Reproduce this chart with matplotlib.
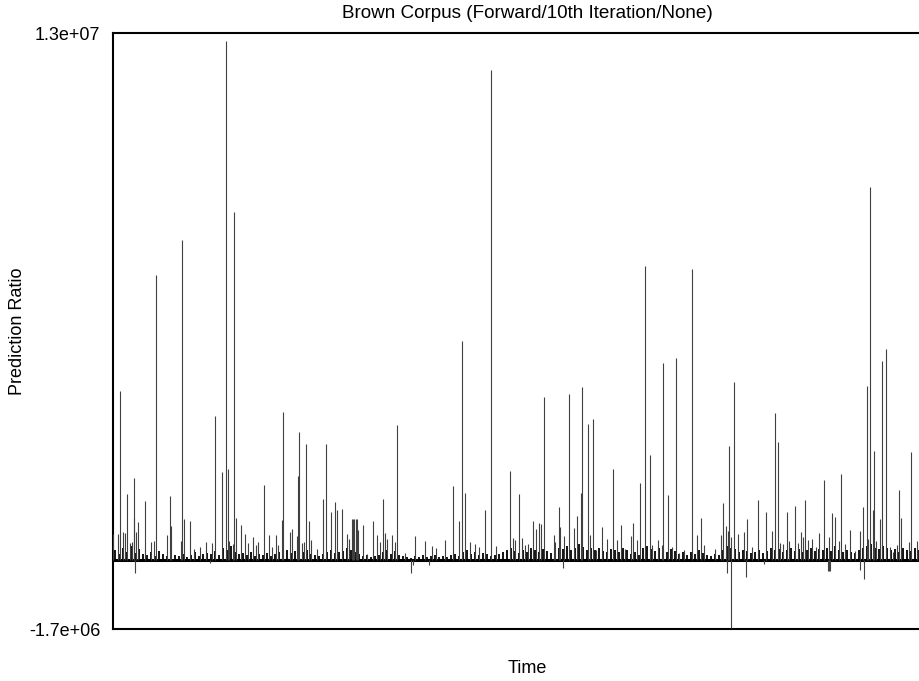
import numpy as np
import matplotlib
matplotlib.use('Agg')
import matplotlib.pyplot as plt

plt.rcParams['font.family'] = ['Liberation Sans', 'DejaVu Sans']

# Spikes of the prediction ratio: time (thousand words) and value (millions)
spike_time = [0.3, 4.7, 6.7, 9.7, 11.7, 13.7, 16.7, 18.7, 20.7, 21.3, 22.3, 22.7, 25.3, 32.3, 37.7, 41.3,
              42.7, 53.7, 57.3, 58.3, 68.3, 69.0, 71.0, 77.0, 80.7, 87.0, 93.0, 97.3, 99.3, 102.0, 108.7,
              112.7, 114.7, 116.0, 119.7, 121.3, 122.7, 128.0, 132.3, 135.3, 140.3, 142.7, 144.7, 150.7,
              155.7, 159.3, 162.7, 165.3, 169.0, 169.7, 176.7, 178.7, 183.7, 185.0, 186.0, 188.7, 190.7,
              192.7, 195.7, 198.0, 203.7, 209.7, 213.0, 217.7, 222.0, 224.3, 228.7, 234.3, 236.3, 238.7,
              240.0, 241.5, 243.0, 244.5, 245.3, 249.7, 254.0, 260.0, 264.0, 267.3, 270.0, 272.3, 274.3,
              279.0, 281.7, 283.7, 292.0, 298.0, 300.3, 302.0, 312.3, 316.3, 318.7, 323.0, 331.7, 340.0,
              345.7, 349.0, 351.7, 357.3, 362.3, 365.7, 372.3, 378.3, 383.0, 397.0, 400.0, 402.0, 406.0,
              408.7, 412.0, 414.7, 419.7, 422.7, 426.3, 428.0, 431.5, 440.7, 442.3, 445.7, 447.0, 450.0,
              450.7, 456.0, 461.0, 464.3, 467.7, 469.0, 475.3, 476.7, 479.7, 482.7, 488.7, 494.3, 499.7,
              503.7, 508.0, 512.0, 517.7, 520.3, 524.0, 527.0, 532.0, 537.0, 538.7, 545.3, 548.7, 550.3,
              554.7, 558.7, 562.7, 566.3, 571.3, 578.7, 583.7, 588.0, 590.7, 602.0, 608.3, 609.7, 612.7,
              614.0, 614.7, 616.3, 617.7, 618.3, 620.7, 625.3, 631.3, 633.3, 633.7, 638.7, 644.7, 651.0,
              652.7, 658.7, 661.7, 664.7, 667.0, 670.0, 673.7, 676.0, 681.7, 685.0, 688.3, 689.7, 692.3,
              695.0, 699.0, 703.0, 706.0, 711.0, 715.5, 716.5, 717.5, 715.7, 718.7, 722.0, 726.0, 728.0,
              731.7, 736.7, 741.7, 746.7, 746.9, 749.7, 750.7, 753.7, 755.3, 757.3, 760.3, 761.0, 762.7,
              767.0, 769.0, 772.7, 777.0, 780.3, 784.3, 786.3, 787.7, 795.7, 798.3, 803.7, 806.3]
spike_value = [0.64, 0.64, 4.17, 0.69, 0.67, 1.63, 0.42, 0.44, 2.02, 1.04, -0.32, 0.69, 0.94, 1.46, 0.44, 0.47,
               7.03, 0.62, 1.58, 0.84, 0.47, 7.89, 1.01, 0.96, 0.27, 0.32, 0.44, -0.07, 0.42, 3.55, 2.17,
               12.80, 2.24, 0.47, 0.39, 8.58, 1.04, 0.86, 0.64, 0.42, 0.57, 0.37, 0.44, 1.85,
               0.62, 0.32, 0.62, 0.37, 0.99, 3.65, 0.69, 0.76, 0.59, 2.07, 3.16, 0.42, 0.44,
               2.86, 0.96, 0.49, 0.27, 1.50, 2.86, 1.18, 1.43, 1.23, 1.26, 0.64, 0.52, 1.01,
               1.01, 1.01, 1.01, 1.01, 0.74, 0.86, 0.15, 0.96, 0.62, 0.44, 1.50, 0.67, 0.52,
               0.62, 0.44, 3.33, 0.17, -0.32, -0.12, 0.59, 0.47, -0.12, 0.35, 0.30, 0.49, 1.83,
               0.96, 5.40, 1.65, 0.44, 0.39, 0.32, 1.23, 12.09, 0.35, 2.20, 0.54, 0.49, 1.63,
               0.54, 0.37, 0.39, 0.96, 0.76, 0.91, 0.89, 4.02, 0.62, 0.44, 1.31, 0.81, -0.20,
               0.59, 4.09, 0.79, 1.09, 1.65, 4.27, 3.35, 0.62, 3.48, 0.25, 0.81, 0.52, 2.24,
               0.49, 0.86, 0.27, 0.59, 0.91, 0.49, 1.90, 7.25, 2.59, 0.37, 0.49, 0.37, 4.86,
               1.60, 0.32, 4.98, 0.17, 0.25, 7.18, 0.62, 1.04, 0.37, 0.27, 0.62, 1.41, 0.84,
               -0.32, 0.72, 2.81, -1.68, 0.57, 4.39, 0.64, 0.69, -0.42, 1.01, 0.32, 1.48, -0.10,
               1.18, 0.72, 3.63, 2.91, 0.42, 0.39, 1.18, 0.47, 1.33, 0.42, 0.69, 0.57, 1.48,
               0.49, 0.52, 0.32, 0.67, 1.97, -0.27, -0.27, -0.27, 0.57, 1.16, 1.06, 0.47, 2.12,
               0.39, 0.74, 0.22, 0.72, -0.25, 1.31, -0.47, 4.29, 0.52, 9.20, 1.23, 2.69, 0.47,
               1.01, 4.91, 5.20, 0.32, 0.20, 0.37, 1.73, 1.04, 0.44, 2.66, 0.47, 0.37]

# Small background fluctuations, one every 4 thousand words (millions)
noise_value = [0.25, 0.15, 0.30, 0.20, 0.35, 0.18, 0.28, 0.15,
               0.12, 0.20, 0.10, 0.22, 0.15, 0.10, 0.18, 0.12,
               0.10, 0.15, 0.08, 0.12, 0.20, 0.10, 0.14, 0.18,
               0.15, 0.22, 0.12, 0.30, 0.25, 0.35, 0.20, 0.15,
               0.18, 0.12, 0.20, 0.10, 0.15, 0.12, 0.18, 0.10,
               0.15, 0.20, 0.12, 0.25, 0.18, 0.22, 0.30, 0.20,
               0.25, 0.15, 0.12, 0.10, 0.15, 0.20, 0.25, 0.18,
               0.20, 0.22, 0.30, 0.25, 0.20, 0.15, 0.10, 0.12,
               0.08, 0.10, 0.12, 0.20, 0.25, 0.15, 0.22, 0.12,
               0.10, 0.08, 0.06, 0.10, 0.08, 0.12, 0.07, 0.10,
               0.12, 0.08, 0.10, 0.07, 0.12, 0.15, 0.10, 0.20,
               0.25, 0.15, 0.20, 0.12, 0.18, 0.15, 0.10, 0.12,
               0.15, 0.20, 0.25, 0.30, 0.22, 0.18, 0.25, 0.20,
               0.30, 0.25, 0.20, 0.28, 0.22, 0.18, 0.25, 0.30,
               0.28, 0.35, 0.25, 0.30, 0.40, 0.32, 0.25, 0.30,
               0.25, 0.30, 0.22, 0.20, 0.28, 0.25, 0.20, 0.30,
               0.25, 0.15, 0.20, 0.12, 0.30, 0.35, 0.28, 0.22,
               0.30, 0.25, 0.20, 0.28, 0.22, 0.15, 0.20, 0.12,
               0.20, 0.15, 0.25, 0.18, 0.12, 0.10, 0.15, 0.12,
               0.25, 0.35, 0.30, 0.28, 0.20, 0.25, 0.22, 0.18,
               0.20, 0.25, 0.18, 0.22, 0.30, 0.25, 0.28, 0.20,
               0.25, 0.30, 0.22, 0.28, 0.20, 0.25, 0.30, 0.22,
               0.28, 0.25, 0.30, 0.22, 0.35, 0.25, 0.20, 0.25,
               0.20, 0.18, 0.25, 0.30, 0.35, 0.40, 0.30, 0.28,
               0.35, 0.30, 0.25, 0.28, 0.20, 0.30, 0.25, 0.22,
               0.30, 0.25, 0.20, 0.22, 0.20, 0.18, 0.20, 0.15]
noise_step = 4.0

y_ticks = [-1.7e6, 1.3e7]
y_tick_labels = ['-1.7e+06', '1.3e+07']

spike_t = np.array(spike_time)
spike_v = np.array(spike_value) * 1e6
noise_v = np.array(noise_value) * 1e6
noise_t = np.arange(len(noise_v)) * noise_step + 2.0

fig = plt.figure(figsize=(9.2, 6.81), dpi=100)
ax = fig.add_axes([113 / 920, 1 - 629 / 681, 828 / 920, 596 / 681])

ax.axhline(0, color='black', lw=2.2, zorder=1)
ax.vlines(noise_t, 0, noise_v, color='black', lw=1.3, zorder=2)
ax.vlines(spike_t, 0, spike_v, color='0.25', lw=0.8, zorder=3)

ax.set_xlim(0, 828)
ax.set_ylim(y_ticks[0], y_ticks[1])
ax.set_xticks([])
ax.set_yticks(y_ticks)
ax.set_yticklabels(y_tick_labels)
ax.tick_params(axis='y', length=0, pad=9, labelsize=13)
for s in ax.spines.values():
    s.set_linewidth(1.5)

ax.set_title('Brown Corpus (Forward/10th Iteration/None)', fontsize=13.6, pad=11)
ax.set_xlabel('Time', fontsize=13, labelpad=22)
ax.set_ylabel('Prediction Ratio', fontsize=13, va='center')
ax.yaxis.set_label_coords(-0.115, 0.5)

fig.savefig('out.png', dpi=100)
